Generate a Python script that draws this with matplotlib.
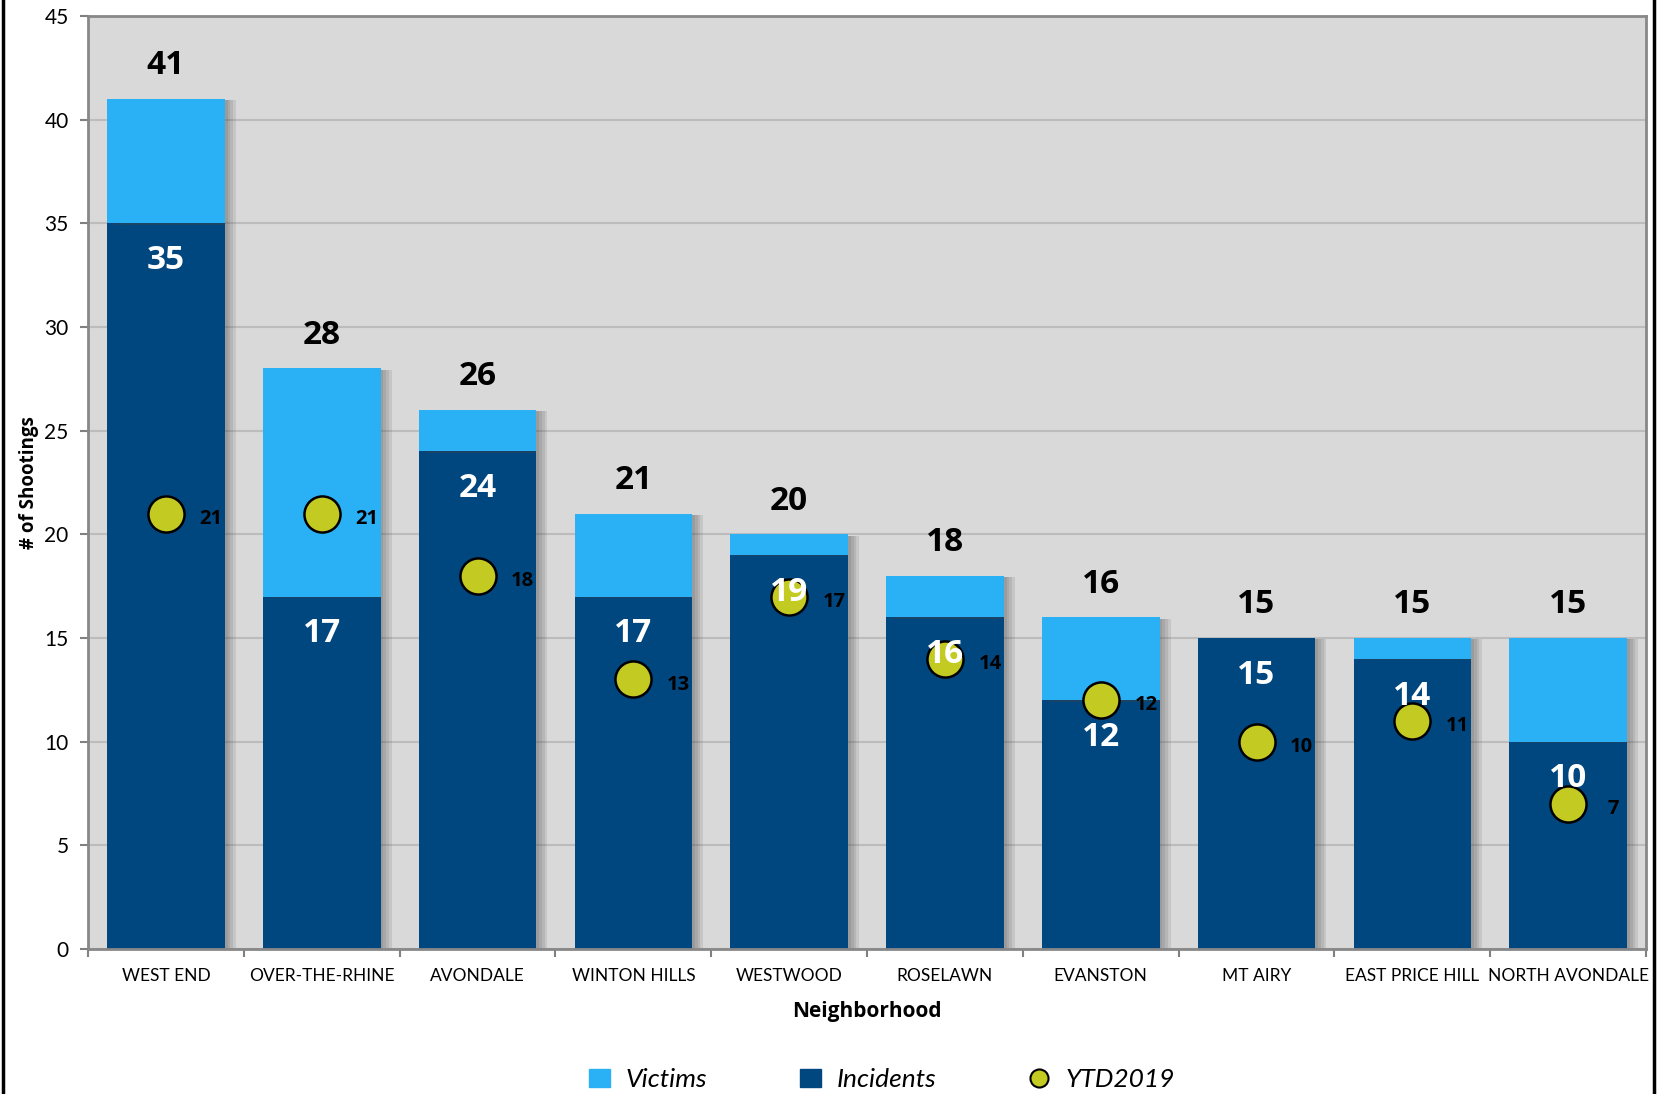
import numpy as np
import matplotlib.pyplot as plt
import matplotlib.patheffects as pe
from matplotlib.lines import Line2D
from matplotlib.patches import Patch

plt.rcParams['font.family'] = ['Lato', 'DejaVu Sans']

barrios = ['WEST END', 'OVER-THE-RHINE', 'AVONDALE', 'WINTON HILLS', 'WESTWOOD',
           'ROSELAWN', 'EVANSTON', 'MT AIRY', 'EAST PRICE HILL', 'NORTH AVONDALE']
incidentes = [35, 17, 24, 17, 19, 16, 12, 15, 14, 10]
totales = [41, 28, 26, 21, 20, 18, 16, 15, 15, 15]
ytd2019 = [21, 21, 18, 13, 17, 14, 12, 10, 11, 7]
victimas = [t - i for t, i in zip(totales, incidentes)]

c_vict = '#29b0f5'
c_inc = '#00467f'
c_ytd = '#c3cb22'

fig = plt.figure(figsize=(16.61, 10.94), dpi=100)
ax = fig.add_axes([0.053, 0.1325, 0.938, 0.853])
ax.set_facecolor('#d9d9d9')

x = np.arange(len(barrios))
# sombra suave a la derecha de las barras
sombra = [pe.SimplePatchShadow(offset=(d, -1), shadow_rgbFace='#444444', alpha=0.12)
          for d in (8, 6, 4, 2)] + [pe.Normal()]
b1 = ax.bar(x, incidentes, width=0.755, color=c_inc, zorder=2)
b2 = ax.bar(x, victimas, bottom=incidentes, width=0.755, color=c_vict, zorder=2)
for b in list(b1) + list(b2):
    b.set_path_effects(sombra)

ax.plot(x, ytd2019, 'o', ms=26, color=c_ytd, mec='black', mew=1.8, zorder=3, linestyle='none')

num = ['Open Sans', 'DejaVu Sans']
for i in range(len(x)):
    ax.text(x[i], totales[i] + 1.6, str(totales[i]), ha='center', va='center',
            fontsize=24, fontweight='bold', family=num, color='black', zorder=5)
    ax.text(x[i], incidentes[i] - 1.8, str(incidentes[i]), ha='center', va='center',
            fontsize=24, fontweight='bold', family=num, color='white', zorder=5)
    ax.text(x[i] + 0.29, ytd2019[i] - 0.25, str(ytd2019[i]), ha='center', va='center',
            fontsize=14.5, fontweight='bold', family=num, color='black', zorder=5)

ax.set_xlim(-0.5, len(x) - 0.5)
ax.set_ylim(0, 45)
ax.set_yticks(range(0, 46, 5))
ax.set_xticks(x)
ax.set_xticklabels(barrios, fontsize=12.5)
ax.set_xticks(np.arange(-0.5, len(x), 1), minor=True)
ax.tick_params(axis='x', which='major', length=0, pad=14)
ax.tick_params(axis='x', which='minor', length=6, color='#808080', width=1.5)
ax.tick_params(axis='y', labelsize=15, length=6, color='#808080', width=1.5, pad=8)
ax.grid(axis='y', color='#bcbcbc', linewidth=1.5, zorder=0)
ax.set_axisbelow(True)
for lado in ['left', 'bottom', 'top', 'right']:
    ax.spines[lado].set_color('#888888')
    ax.spines[lado].set_linewidth(2)

ax.set_ylabel('# of Shootings', fontsize=13.5, fontweight='bold', family=num, labelpad=4)
ax.set_xlabel('Neighborhood', fontsize=15, fontweight='bold', family=num, labelpad=12)

handles = [Patch(color=c_vict), Patch(color=c_inc),
           Line2D([], [], marker='o', ls='none', ms=13, color=c_ytd, mec='black', mew=1.5)]
fig.legend(handles, ['Victims', 'Incidents', 'YTD2019'], loc='center', ncol=3,
           bbox_to_anchor=(0.531, 0.013), frameon=False,
           prop={'size': 19, 'style': 'italic'}, columnspacing=3.5,
           handlelength=0.8, handletextpad=0.6)

# bordes de la diapositiva
fig.add_artist(Line2D([0.002, 0.002], [0, 1], color='black', lw=2.5, transform=fig.transFigure))
fig.add_artist(Line2D([0.996, 0.996], [0, 1], color='black', lw=2.5, transform=fig.transFigure))

plt.savefig('out.png', dpi=100)
